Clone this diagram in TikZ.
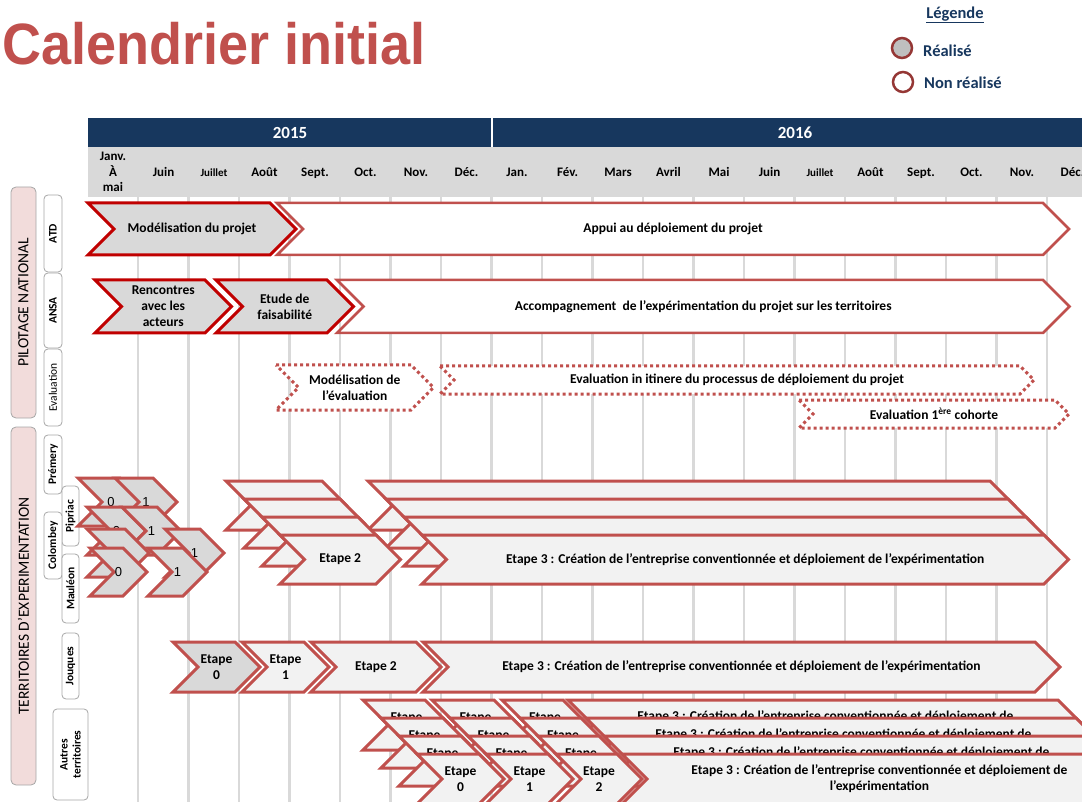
\documentclass[tikz,border=0pt]{standalone}
\usepackage{fontspec}
\setmainfont{Carlito}
\newfontfamily\titrefont{Liberation Sans}
\newfontfamily\chiffrefont{Liberation Sans}
\usetikzlibrary{positioning}

% chevron : style, nom, x gauche, y haut, x coin droit, hauteur, texte
\newcommand{\fleche}[7]{%
  \draw[#1] (#3,#4) -- (#5,#4) -- ++({#6/2},{#6/2}) -- (#5,{#4+#6}) -- (#3,{#4+#6}) -- ++({#6/2},{-#6/2}) -- cycle;
  \node[etxt] (#2) at ({(#3+#5)/2+#6/4},{#4+#6/2}) {#7};
}
\newcommand{\chiffre}{\chiffrefont\mdseries\fontsize{13}{15}\selectfont}

\begin{document}
\begin{tikzpicture}[x=1pt, y=-1pt,
    grille/.style={draw=gris1, line width=2.5pt},
    panneau/.style={draw=gris3, fill=rose, rounded corners=5pt, line width=0.8pt, rotate=90, inner sep=0pt, font=\fontsize{15.5}{18}\selectfont},
    ssboite/.style={draw=gris3, fill=white, rounded corners=4pt, line width=0.8pt, rotate=90, inner sep=0pt, align=center, font=\bfseries\fontsize{11.5}{13}\selectfont},
    realise/.style={draw=rougefonce, fill=gris1, line width=3pt},
    nonrealise/.style={draw=rouge, fill=white, line width=2.5pt},
    pointille/.style={draw=rouge, fill=white, line width=3pt, dash pattern=on 3pt off 3pt},
    terrfait/.style={draw=rouge, fill=gris1, line width=3pt},
    terrafaire/.style={draw=rouge, fill=gris0, line width=3pt},
    etxt/.style={font=\bfseries\fontsize{13.5}{16}\selectfont, align=center, inner sep=0pt},
    mois/.style={font=\bfseries\fontsize{13}{15.5}\selectfont, align=center, inner sep=0pt},
    annee/.style={font=\bfseries\fontsize{17}{20}\selectfont, text=white},
    legtxt/.style={font=\bfseries\fontsize{16.5}{19}\selectfont, text=marine, anchor=west, inner sep=0pt}
  ]
    % Couleurs
    \definecolor{rouge}{RGB}{192,80,77}
    \definecolor{rougefonce}{RGB}{192,0,0}
    \definecolor{bordeaux}{RGB}{149,55,53}
    \definecolor{marine}{RGB}{23,55,94}
    \definecolor{gris0}{RGB}{242,242,242}
    \definecolor{gris1}{RGB}{217,217,217}
    \definecolor{gris2}{RGB}{191,191,191}
    \definecolor{gris3}{RGB}{166,166,166}
    \definecolor{rose}{RGB}{242,220,219}

    \useasboundingbox (0,0) rectangle (1082,802);
    \clip (0,0) rectangle (1082,802);

    % Titre et légende
    \node[anchor=base west, inner sep=0pt, text=rouge, font=\titrefont\bfseries\fontsize{54}{60}\selectfont] (titre) at (2,65) {\scalebox{1}[1.08]{Calendrier initial}};
    \node[font=\bfseries\fontsize{16.5}{19}\selectfont, text=marine] (legende) at (955,15) {\underline{Légende}};
    \node[circle, draw=bordeaux, fill=gris2, line width=2.5pt, minimum size=20pt, inner sep=0pt] (fait) at (902,48) {};
    \node[circle, draw=bordeaux, fill=white, line width=2.5pt, minimum size=20pt, inner sep=0pt] (afaire) at (903,82) {};
    \node[legtxt] (lfait) at (923,51) {Réalisé};
    \node[legtxt] (lafaire) at (924,83) {Non réalisé};

    % En-tête des années et des mois
    \fill[marine] (88,118) rectangle (1082,147);
    \draw[white, line width=2pt] (492,118) -- (492,147);
    \node[annee] (a2015) at (290,133) {2015};
    \node[annee] (a2016) at (795,133) {2016};
    \fill[gris1] (88,147) rectangle (1082,197);
    \node[mois] (m0) at (113,172) {Janv.\\À\\mai};
    \foreach \k/\m in {1/Juin, 2/{\fontsize{11}{13}\selectfont Juillet}, 3/Août, 4/Sept., 5/Oct., 6/Nov., 7/Déc.,
                       8/Jan., 9/Fév., 10/Mars, 11/Avril, 12/Mai, 13/Juin, 14/{\fontsize{11}{13}\selectfont Juillet},
                       15/Août, 16/Sept., 17/Oct., 18/Nov., 19/Déc.} {
        \node[mois, anchor=base] (m\k) at ({113+50.5*\k},176.5) {\m};
    }

    % Lignes verticales des mois
    \foreach \k in {0,...,18} {
        \draw[grille] ({138+50.5*\k},197) -- ({138+50.5*\k},802);
    }

    % Bandeaux de gauche
    \node[panneau, minimum width=231pt, minimum height=25pt] (pilotage) at (23.5,302.5) {PILOTAGE NATIONAL};
    \node[panneau, minimum width=358pt, minimum height=25pt] (territoires) at (23.5,606) {TERRITOIRES D’EXPERIMENTATION};
    \foreach \nom/\x/\y/\l/\e/\txt in {atd/53/233.5/77/18/ATD, ansa/53/310.5/75/18/ANSA,
            premery/53/464.5/59/18/Prémery, pipriac/70.5/516/60/17/Pipriac,
            colombey/53/545.5/67/18/Colombey, mauleon/70.5/588.5/69/17/Mauléon,
            jouques/70.5/666/66/17/Jouques, autres/70.5/754.5/91/35/{Autres\\territoires}} {
        \node[ssboite, minimum width=\l pt, minimum height=\e pt] (b\nom) at (\x,\y) {\txt};
    }
    \node[ssboite, font=\fontsize{11.5}{13}\selectfont, minimum width=77pt, minimum height=18pt] (beval) at (53,387.5) {Evaluation};

    % Pilotage national : ATD
    \fleche{realise}{modprojet}{88}{203}{270}{52}{Modélisation du projet}
    \fleche{nonrealise}{appui}{277}{203}{1043}{52}{Appui au déploiement du projet}

    % Pilotage national : ANSA
    \fleche{realise}{rencontres}{95}{280}{205}{53}{Rencontres\\avec les\\acteurs}
    \fleche{realise}{etude}{216}{280}{327}{53}{Etude de\\faisabilité}
    \fleche{nonrealise}{accomp}{337}{280}{1043}{53}{Accompagnement\ \ de l’expérimentation du projet sur les territoires}

    % Pilotage national : évaluation
    \fleche{pointille}{modeval}{276}{365}{411}{45}{Modélisation de\\l’évaluation}
    \fleche{pointille}{itinere}{440}{366}{1020}{28}{Evaluation in itinere du processus de déploiement du projet}
    \fleche{pointille}{cohorte}{799}{400}{1055}{28}{Evaluation 1\textsuperscript{ère} cohorte}

    % Territoires : étapes 0 et 1 (Prémery, Pipriac, Colombey, Mauléon)
    \foreach \nom/\y/\a/\b/\c/\d in {premery/478/78/120/115/153, pipriac/507/87/122/122/157,
                                   colombey/529/87/125/165/200, mauleon/548/90/123/148/183} {
        \fleche{terrfait}{\nom0}{\a}{\y}{\b}{48}{\chiffre 0}
        \fleche{terrfait}{\nom1}{\c}{\y}{\d}{48}{\chiffre 1}
    }

    % Territoires : étapes 2 et 3 empilées
    \foreach \j in {0,1,2} {
        \fleche{terrafaire}{e2c\j}{226+18*\j}{481+18*\j}{322+18*\j}{49}{}
        \fleche{terrafaire}{e3c\j}{368+18*\j}{481+18*\j}{990+18*\j}{49}{}
    }
    \fleche{terrafaire}{etape2}{280}{535}{376}{49}{Etape 2}
    \fleche{terrafaire}{etape3}{422}{535}{1044}{49}{Etape 3 : Création de l’entreprise conventionnée et déploiement de l’expérimentation}

    % Jouques
    \fleche{terrfait}{jq0}{173}{642}{235}{50}{Etape\\0}
    \fleche{terrafaire}{jq1}{242}{642}{304}{50}{Etape\\1}
    \fleche{terrafaire}{jq2}{311}{642}{416}{50}{Etape 2}
    \fleche{terrafaire}{jq3}{423}{642}{1035}{50}{Etape 3 : Création de l’entreprise conventionnée et déploiement de l’expérimentation}

    % Autres territoires (4 couches)
    \foreach \j in {0,...,3} {
        \fleche{terrafaire}{au0\j}{363+18*\j}{700+18*\j}{425+18*\j}{50}{Etape\\0}
        \fleche{terrafaire}{au1\j}{432+18*\j}{700+18*\j}{494+18*\j}{50}{Etape\\1}
        \fleche{terrafaire}{au2\j}{502+18*\j}{700+18*\j}{563+18*\j}{50}{Etape\\2}
        \fleche{terrafaire}{au3\j}{568+18*\j}{700+18*\j}{1058+18*\j}{50}{Etape 3 : Création de l’entreprise conventionnée et déploiement de\\l’expérimentation}
    }
\end{tikzpicture}
\end{document}
